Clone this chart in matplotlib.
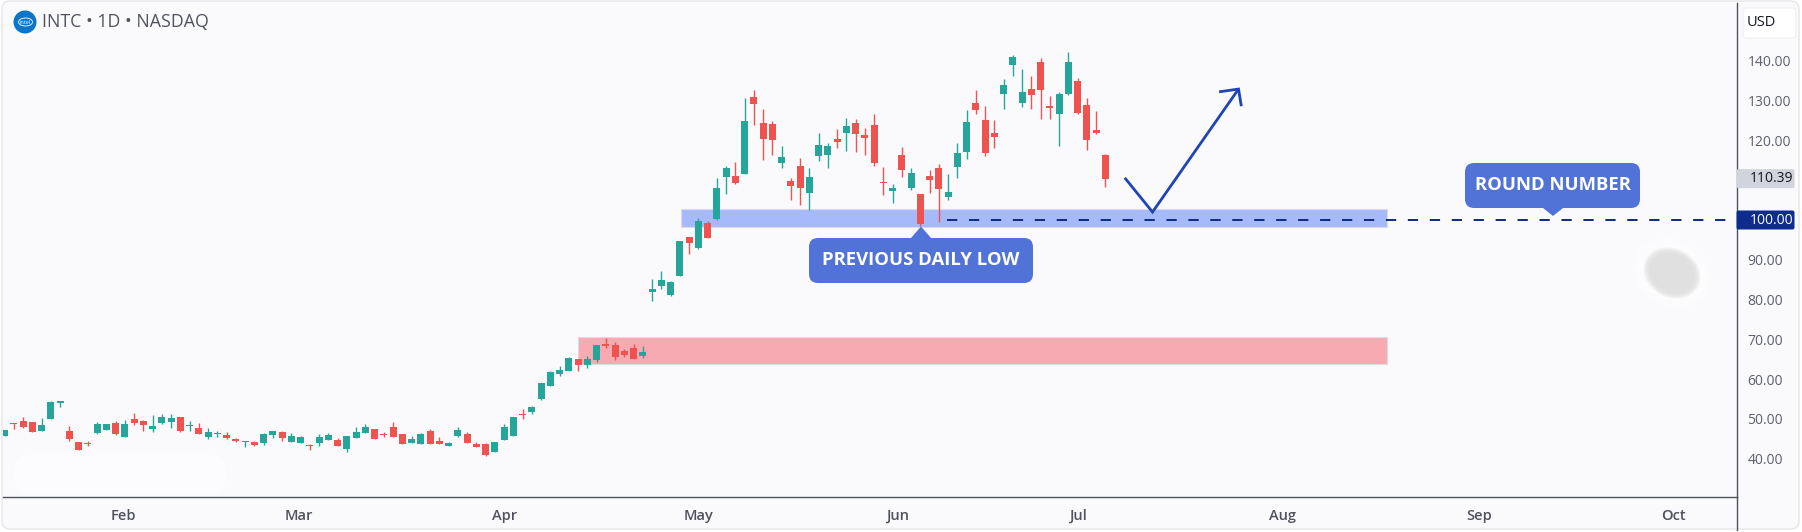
import matplotlib
matplotlib.use("Agg")
import matplotlib.pyplot as plt
from matplotlib.patches import Ellipse, FancyBboxPatch, Polygon, Rectangle

plt.rcParams["font.family"] = ["Open Sans", "DejaVu Sans"]
plt.rcParams["lines.scale_dashes"] = False

# daily candles, oldest first
highs = [
    47.2, 48.9, 50.4, 49.2, 50.3, 54.4, 54.4, 48.2, 44.3, 44.5,
    49.2, 48.7, 49.4, 49.7, 51.5, 49.7, 51.0, 51.3, 51.3, 50.5,
    49.4, 49.0, 47.7, 47.0, 46.7, 45.2, 44.5, 44.5, 46.5, 47.0,
    47.0, 46.5, 45.7, 43.7, 46.2, 46.5, 45.2, 45.7, 48.0, 48.7,
    47.5, 46.7, 49.2, 46.2, 45.7, 46.5, 47.5, 45.5, 44.1, 48.0,
    46.7, 44.2, 44.0, 44.2, 48.7, 50.5, 52.5, 53.3, 59.1, 62.0,
    63.3, 65.5, 65.2, 65.8, 68.6, 70.3, 69.3, 67.5, 68.8, 68.3,
    85.1, 87.2, 84.6, 94.8, 95.7, 100.4, 99.7, 110.5, 113.6, 114.6,
    130.7, 132.7, 127.9, 124.9, 118.6, 110.6, 115.6, 113.1, 121.9, 119.4,
    122.9, 125.6, 125.4, 123.1, 126.6, 113.3, 109.0, 118.3, 113.1, 106.5,
    112.6, 114.1, 111.6, 119.4, 127.6, 132.7, 128.6, 125.1, 135.4, 141.5,
    137.9, 136.2, 140.7, 131.2, 132.2, 142.2, 135.7, 130.7, 127.4, 116.6,
]
lows = [
    45.7, 47.6, 47.7, 46.7, 47.0, 50.1, 53.1, 44.5, 42.2, 43.2,
    46.2, 47.2, 46.1, 45.5, 48.6, 47.0, 46.7, 48.7, 47.7, 46.7,
    47.1, 46.2, 45.0, 45.5, 45.0, 44.1, 43.0, 43.2, 43.5, 45.2,
    44.5, 44.2, 44.0, 42.2, 43.2, 44.7, 43.2, 41.7, 45.2, 46.5,
    45.0, 45.5, 45.5, 43.7, 44.0, 43.7, 43.7, 43.7, 43.2, 45.5,
    44.0, 43.0, 40.7, 41.7, 44.7, 45.7, 50.0, 51.3, 54.8, 58.3,
    60.8, 62.1, 62.1, 62.9, 64.3, 67.8, 64.7, 65.7, 65.1, 65.3,
    79.7, 82.7, 81.0, 85.9, 91.5, 92.7, 95.5, 100.0, 106.5, 109.0,
    111.6, 123.9, 115.1, 116.3, 113.1, 105.0, 103.8, 102.5, 114.8, 113.1,
    118.1, 117.3, 117.1, 116.3, 113.6, 106.3, 104.3, 110.8, 107.5, 98.5,
    106.8, 99.5, 105.0, 110.6, 115.3, 126.6, 116.1, 118.1, 127.9, 136.2,
    128.4, 127.9, 125.4, 125.4, 118.6, 131.4, 126.6, 117.6, 121.6, 108.3,
]
opens = [
    45.7, 48.9, 49.5, 49.2, 47.1, 50.1, 54.1, 47.0, 44.1, 43.9,
    46.4, 47.2, 49.0, 45.5, 50.0, 49.5, 47.5, 49.0, 49.2, 50.5,
    48.2, 47.7, 45.5, 46.2, 46.0, 45.0, 44.1, 44.2, 44.0, 46.0,
    46.7, 44.2, 44.0, 43.5, 44.0, 44.7, 44.7, 42.5, 45.2, 46.5,
    47.5, 46.1, 48.0, 46.2, 44.0, 43.7, 47.0, 44.5, 43.2, 45.7,
    46.2, 43.7, 43.7, 41.7, 44.7, 45.7, 51.2, 51.8, 55.0, 58.3,
    61.3, 62.1, 65.0, 63.6, 64.8, 68.8, 68.6, 67.0, 67.8, 65.8,
    82.0, 83.4, 81.2, 85.9, 95.7, 93.0, 99.2, 100.3, 110.8, 111.1,
    111.6, 130.9, 124.4, 124.1, 114.3, 109.8, 113.6, 106.8, 116.1, 116.3,
    120.4, 121.9, 124.4, 121.4, 123.9, 109.5, 107.3, 116.3, 108.0, 106.5,
    111.1, 113.1, 105.8, 113.3, 117.1, 129.4, 125.1, 121.9, 131.7, 139.0,
    129.4, 132.9, 139.7, 128.6, 126.6, 131.7, 134.9, 128.9, 122.6, 116.3,
]
closes = [
    47.2, 48.7, 48.0, 46.7, 48.5, 54.3, 54.3, 45.0, 42.2, 43.7,
    48.7, 48.7, 46.2, 48.7, 49.0, 48.5, 48.2, 50.5, 50.3, 47.0,
    48.3, 46.2, 46.7, 46.3, 45.2, 44.5, 44.3, 43.5, 46.2, 47.0,
    45.2, 45.7, 45.5, 43.1, 45.6, 46.0, 43.2, 45.7, 46.7, 48.0,
    45.0, 45.9, 45.5, 43.7, 45.0, 46.2, 43.7, 43.7, 44.0, 47.2,
    44.0, 43.0, 41.0, 44.2, 48.0, 50.5, 50.9, 53.0, 59.0, 61.8,
    62.3, 65.3, 63.6, 65.0, 68.6, 68.3, 65.7, 66.1, 65.1, 66.8,
    82.7, 84.9, 84.4, 94.6, 94.2, 99.7, 95.5, 108.0, 113.1, 109.3,
    124.9, 129.2, 120.4, 120.1, 115.8, 108.5, 108.0, 110.8, 118.8, 118.6,
    119.6, 123.6, 121.6, 120.6, 114.3, 109.3, 108.0, 112.6, 111.8, 99.0,
    110.1, 107.8, 107.0, 116.8, 124.6, 127.6, 116.8, 120.9, 133.9, 141.0,
    132.2, 131.4, 132.7, 128.1, 131.7, 139.7, 126.9, 120.1, 121.9, 110.39,
]

price_ticks = [40, 50, 60, 70, 80, 90, 120, 130, 140]
month_labels = ["Feb", "Mar", "Apr", "May", "Jun", "Jul", "Aug", "Sep", "Oct"]
month_bars = [12.8, 31.8, 54.0, 75.0, 96.5, 116.0, 138.2, 159.4, 180.4]

last_price = 110.39
round_level = 100.0

# support zones: first bar, last bar, low, high
blue_zone = (73.1, 149.4, 98.2, 102.7)
pink_zone = (62.0, 149.4, 63.7, 70.5)

# projected path after the last candle
path_bars = [121.1, 124.1, 133.4]
path_prices = [110.6, 102.0, 132.9]
head_bars = [131.3, 133.4, 133.7]
head_prices = [132.2, 132.9, 128.6]

WIDTH, HEIGHT = 1802, 532
BULL, BEAR = "#26a69a", "#ef5350"
CARD = "#fafafd"
CALLOUT = "#5172d6"
NAVY = "#0f2a7d"
AXIS = "#50535e"

# pixel geometry of the plot pane
LEFT, RIGHT, TOP, BOTTOM = 3, 1737, 3, 497
BAR_X0, BAR_STEP = 4.6, 9.25
LEVEL_Y, PX_PER_USD = 220.0, 3.98


def price_y(price):
    return LEVEL_Y - (price - round_level) * PX_PER_USD


def callout(canvas, x0, y0, x1, y1, apex_x, apex_y, base_half, label):
    base_y = y0 if apex_y < y0 else y1
    canvas.add_patch(FancyBboxPatch((x0 + 9, y0 + 9), x1 - x0 - 18, y1 - y0 - 18,
                                    boxstyle="round,pad=9,rounding_size=9",
                                    fc=CALLOUT, ec="none", zorder=6))
    canvas.add_patch(Polygon([(apex_x - base_half, base_y), (apex_x, apex_y),
                              (apex_x + base_half, base_y)],
                             fc=CALLOUT, ec="none", zorder=6))
    canvas.text((x0 + x1) / 2, (y0 + y1) / 2 - 0.5, label, color="white",
                fontsize=13.3, fontweight="bold", ha="center", va="center", zorder=7)


fig = plt.figure(figsize=(WIDTH / 100, HEIGHT / 100), dpi=100, facecolor="white")

# background layer in pixel coordinates
bg = fig.add_axes([0, 0, 1, 1], zorder=0)
bg.set_xlim(0, WIDTH)
bg.set_ylim(HEIGHT, 0)
bg.axis("off")
bg.add_patch(FancyBboxPatch((10, 9), WIDTH - 21, HEIGHT - 20,
                            boxstyle="round,pad=8,rounding_size=8",
                            fc=CARD, ec="#e6e6ea", lw=1))
bg.add_patch(FancyBboxPatch((27, 467), 186, 14,
                            boxstyle="round,pad=12,rounding_size=12",
                            fc="#fcfcfe", ec="none"))

# candle pane
ax = fig.add_axes([LEFT / WIDTH, 1 - BOTTOM / HEIGHT,
                   (RIGHT - LEFT) / WIDTH, (BOTTOM - TOP) / HEIGHT], zorder=1)
ax.patch.set_alpha(0)
ax.set_xlim((LEFT - BAR_X0) / BAR_STEP, (RIGHT - BAR_X0) / BAR_STEP)
ax.set_ylim(round_level - (BOTTOM - LEVEL_Y) / PX_PER_USD,
            round_level + (LEVEL_Y - TOP) / PX_PER_USD)

for (x0, x1, lo, hi), fc in ((blue_zone, "#a5b9fb"), (pink_zone, "#f7aab1")):
    ax.add_patch(Rectangle((x0, lo), x1 - x0, hi - lo, fc=fc, ec="#dcdde3",
                           lw=0.8, zorder=1))

bars = range(len(opens))
colors = [BULL if c >= o else BEAR for o, c in zip(opens, closes)]
ax.vlines(bars, lows, highs, colors=colors, lw=1.0, zorder=2)
ax.bar(bars, [max(abs(c - o), 0.3) for o, c in zip(opens, closes)],
       bottom=[min(o, c) for o, c in zip(opens, closes)],
       width=0.76, color=colors, zorder=3)

# the level line starts at the low that set it and runs to the price scale
ax.plot([101.9, (1728 - BAR_X0) / BAR_STEP], [round_level, round_level],
        color=NAVY, lw=1.4, linestyle=(0, (7.4, 8.4)), zorder=4)

ax.plot(path_bars, path_prices, color="#1f45b5", lw=2.0, solid_joinstyle="miter",
        solid_capstyle="butt", zorder=4)
ax.plot(head_bars, head_prices, color="#1f45b5", lw=2.0, solid_joinstyle="miter",
        solid_capstyle="butt", zorder=4)

for side in ("top", "left"):
    ax.spines[side].set_visible(False)
for side in ("right", "bottom"):
    ax.spines[side].set_color(AXIS)
    ax.spines[side].set_linewidth(1.0)

ax.yaxis.tick_right()
ax.set_yticks(price_ticks, [f"{p:.2f}" for p in price_ticks])
ax.set_xticks(month_bars, month_labels)
ax.tick_params(axis="y", length=0, pad=7.5, labelsize=10, labelcolor="#5d606b")
ax.tick_params(axis="x", length=0, pad=8.5, labelsize=10.5, labelcolor="#50535e")
for tick in ax.get_xticklabels():
    tick.set_fontweight("semibold")

# overlay: callouts, price tags, header
top = fig.add_axes([0, 0, 1, 1], zorder=2)
top.set_xlim(0, WIDTH)
top.set_ylim(HEIGHT, 0)
top.axis("off")

top.plot([RIGHT, RIGHT], [BOTTOM, HEIGHT - 2], color=AXIS, lw=1.0)

callout(top, 809, 238, 1033, 283, 921, 226.5, 10, "PREVIOUS DAILY LOW")
callout(top, 1465, 163, 1640, 208, 1553, 216, 10, "ROUND NUMBER")

# price tags on the scale
for level, fc, tc in ((last_price, "#d1d4dc", "#131722"), (round_level, "#0d2c8c", "white")):
    y = price_y(level)
    top.add_patch(FancyBboxPatch((RIGHT + 1, y - 8), 55, 16,
                                 boxstyle="round,pad=1.5,rounding_size=2",
                                 fc=fc, ec="none", zorder=5))
    top.text(1750, y, f"{level:.2f}", color=tc, fontsize=10, va="center", ha="left", zorder=6)

# currency box
top.add_patch(FancyBboxPatch((1746, 11), 47, 24, boxstyle="round,pad=3,rounding_size=4",
                             fc="white", ec="#f0f0f3", lw=0.8))
top.text(1747, 23, "USD", color="#131722", fontsize=10.5, va="center", ha="left")

# symbol logo and title
top.add_patch(Ellipse((25, 22), 23, 23, fc="#0b76c9", ec="none"))
top.add_patch(Ellipse((25.5, 22), 14, 8, fc="none", ec="white", lw=0.6))
top.text(25.5, 22, "intel", color="white", fontsize=4, ha="center", va="center")
top.text(42, 22, "INTC • 1D • NASDAQ", color=AXIS, fontsize=12.8, va="center", ha="left")

# soft grey smudge with a pale halo
for scale, fc, alpha in ((1.45, "#ffffff", 0.35), (1.25, "#ffffff", 0.35),
                         (1.06, "#e6e6e6", 0.4), (1.0, "#e2e2e2", 0.5),
                         (0.93, "#dfdfdf", 0.5), (0.85, "#dedede", 0.6)):
    top.add_patch(Ellipse((1672, 273), 56 * scale, 46 * scale, angle=28,
                          fc=fc, ec="none", alpha=alpha))

fig.savefig("out.png", dpi=100, facecolor="white")
